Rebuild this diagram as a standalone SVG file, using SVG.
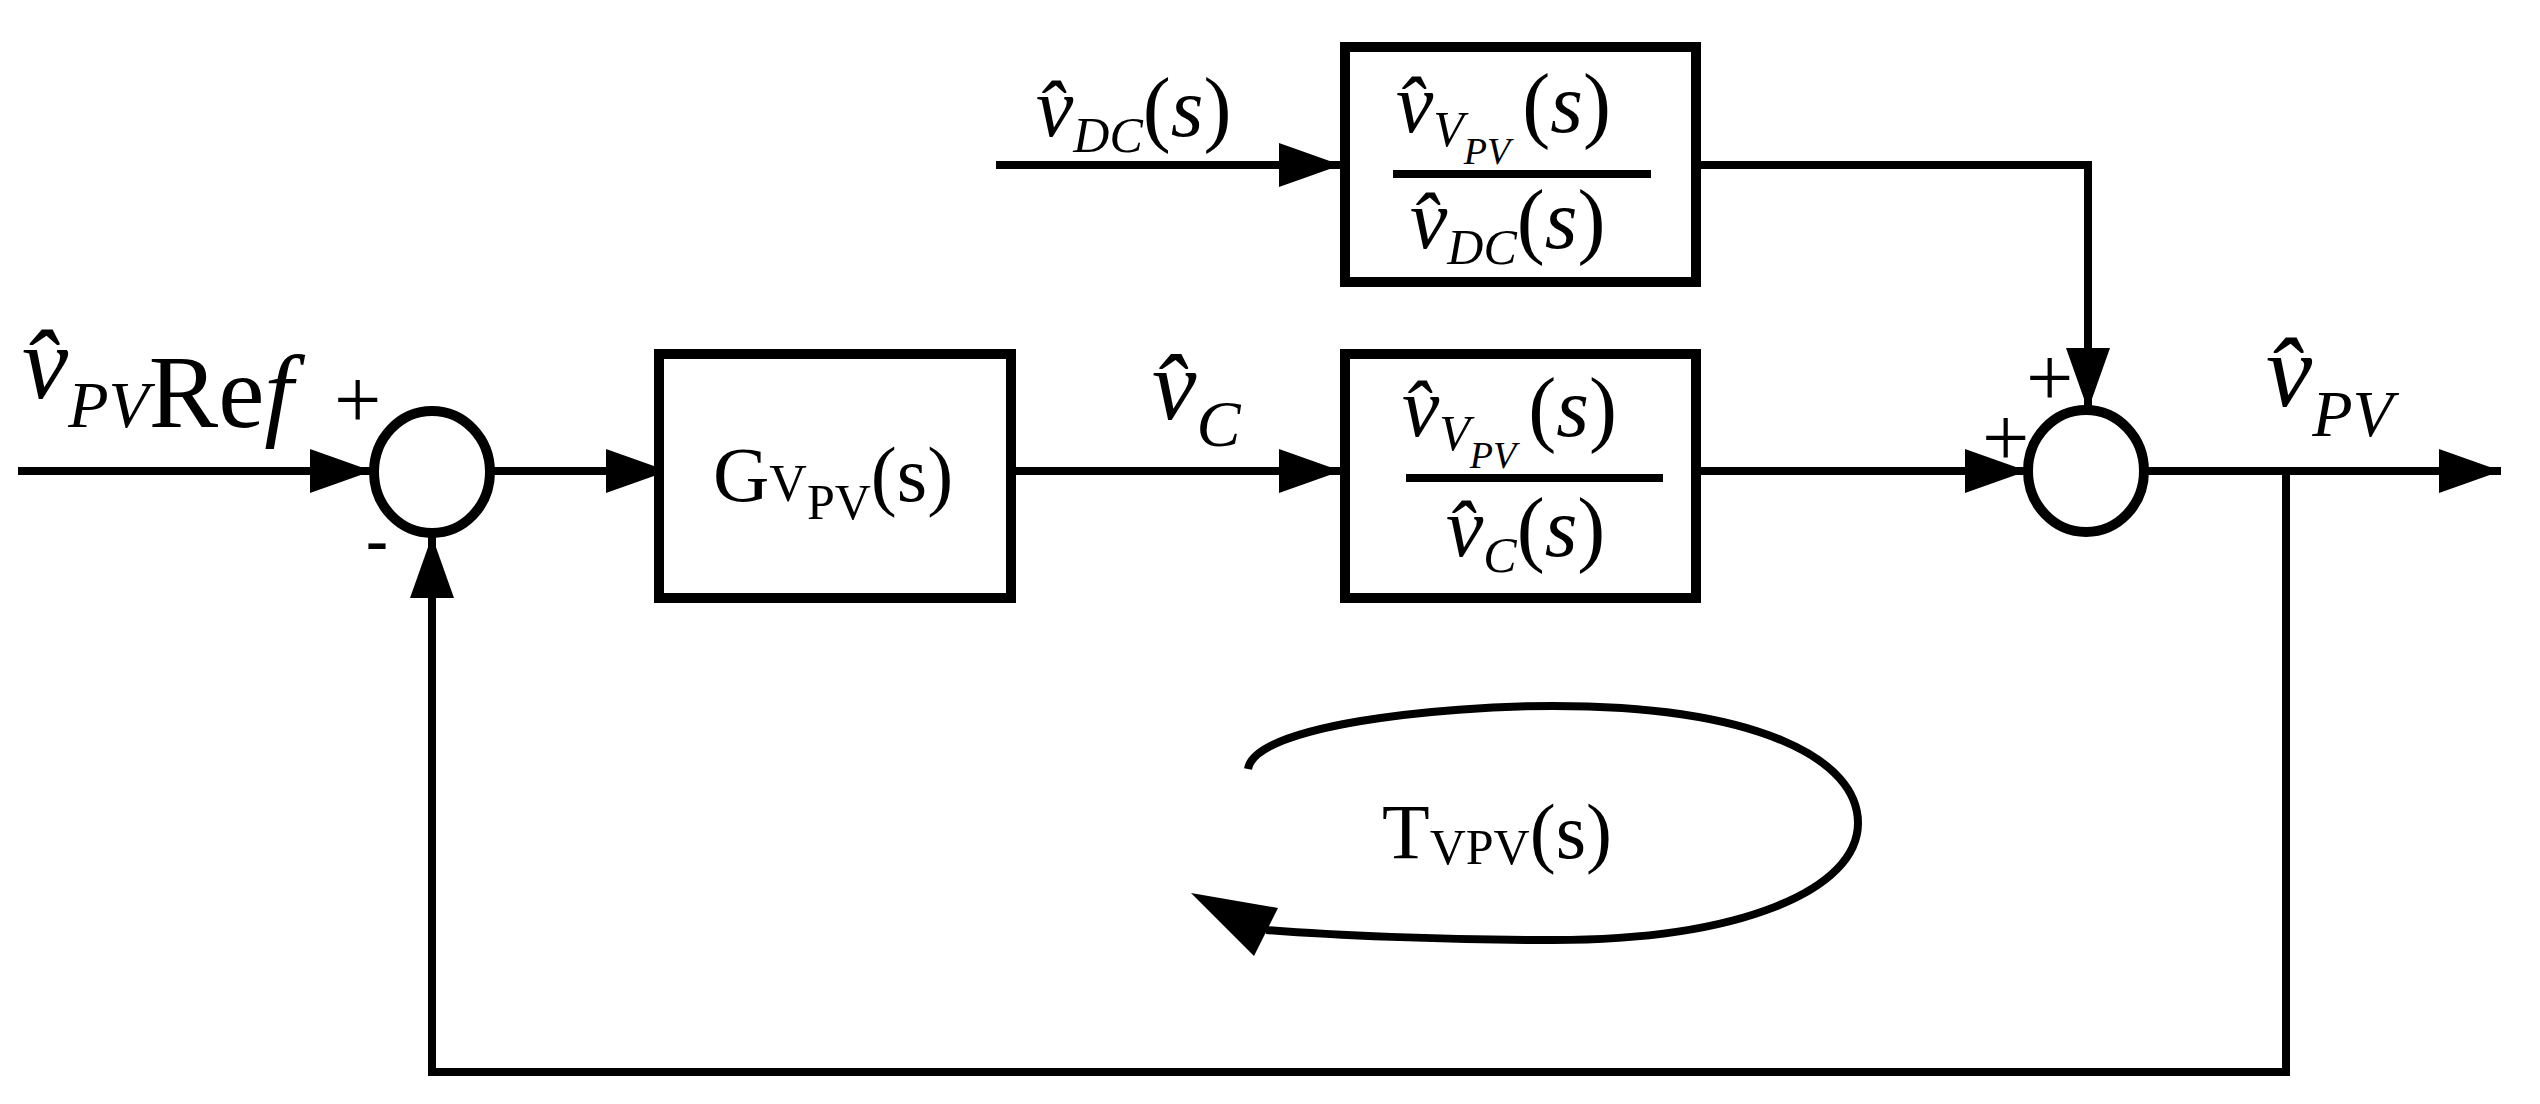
<svg xmlns="http://www.w3.org/2000/svg" width="2540" height="1104" viewBox="0 0 2540 1104">
<style>
.w{stroke:#000;stroke-width:8;fill:none}
.b{stroke:#000;stroke-width:10;fill:#fff}
.t{font-family:"Liberation Serif",serif;fill:#000}
.i{font-style:italic}
.p{font-size:84px}
</style>
<defs>
<marker id="ah" markerUnits="userSpaceOnUse" markerWidth="64" markerHeight="46" refX="62" refY="22" orient="auto"><path d="M0,0 L62,22 L0,44 z" fill="#000"/></marker>
</defs>
<rect width="2540" height="1104" fill="#fff"/>
<g id="connectors">
<path class="w" d="M18,471 H372" marker-end="url(#ah)"/>
<path class="w" d="M490,471 H668" marker-end="url(#ah)"/>
<path class="w" d="M1012,471 H1341" marker-end="url(#ah)"/>
<path class="w" d="M996,165 H1341" marker-end="url(#ah)"/>
<path class="w" d="M1697,165 H2088 V410" marker-end="url(#ah)"/>
<path class="w" d="M1697,471 H2027" marker-end="url(#ah)"/>
<path class="w" d="M2144,471 H2501" marker-end="url(#ah)"/>
<path class="w" d="M2286,471 V1072 H432 V536" marker-end="url(#ah)"/>
<path class="w" d="M1248,769 C1255,725 1440,706 1553,706 C1760,706 1858,760 1858,823 C1858,890 1740,940 1553,940 C1440,940 1330,935 1266,930"/>
<polygon points="1191,893 1278,908 1254,956" fill="#000"/>
</g>
<g id="sum1"><ellipse class="b" cx="432" cy="472" rx="58" ry="61"/>
<text class="t p" x="334" y="428">+</text>
<text class="t" x="366" y="562" font-size="66" font-weight="bold">-</text></g>
<g id="sum2"><ellipse class="b" cx="2086" cy="471" rx="58" ry="61"/>
<text class="t p" x="2026" y="406">+</text>
<text class="t p" x="1982" y="466">+</text></g>
<g id="G"><rect class="b" x="659" y="354" width="352" height="244"/>
<text class="t" x="713" y="501" font-size="78">G<tspan font-size="52">V</tspan><tspan font-size="50" dy="18">PV</tspan><tspan dy="-18">(s)</tspan></text></g>
<g id="Hc"><rect class="b" x="1345" y="354" width="351" height="244"/>
<text class="t i" x="1402" y="436" font-size="84">v̂<tspan font-size="50" dy="14">V</tspan><tspan font-size="38" dy="18">PV</tspan><tspan font-style="normal" dy="-32" dx="12">(</tspan>s<tspan font-style="normal">)</tspan></text>
<line class="w" x1="1406" y1="478" x2="1663" y2="478"/>
<text class="t i" x="1446" y="556" font-size="84">v̂<tspan font-size="50" dy="16">C</tspan><tspan font-style="normal" dy="-16">(</tspan>s<tspan font-style="normal">)</tspan></text></g>
<g id="Hdc"><rect class="b" x="1345" y="47" width="351" height="235"/>
<text class="t i" x="1396" y="132" font-size="84">v̂<tspan font-size="50" dy="14">V</tspan><tspan font-size="38" dy="18">PV</tspan><tspan font-style="normal" dy="-32" dx="12">(</tspan>s<tspan font-style="normal">)</tspan></text>
<line class="w" x1="1393" y1="174" x2="1651" y2="174"/>
<text class="t i" x="1410" y="248" font-size="84">v̂<tspan font-size="50" dy="16">DC</tspan><tspan font-style="normal" dy="-16">(</tspan>s<tspan font-style="normal">)</tspan></text></g>
<g id="labels">
<text class="t i" x="1036" y="136" font-size="84">v̂<tspan font-size="50" dy="16">DC</tspan><tspan font-style="normal" dy="-16">(</tspan>s<tspan font-style="normal">)</tspan></text>
<text class="t i" x="22" y="398" font-size="104">v̂<tspan font-size="66" dy="29">PV</tspan><tspan font-style="normal">Re</tspan>f</text>
<text class="t i" x="1152" y="419" font-size="100">v̂<tspan font-size="66" dy="27">C</tspan></text>
<text class="t i" x="2266" y="406" font-size="104">v̂<tspan font-size="66" dy="30">PV</tspan></text>
<text class="t" x="1382" y="858" font-size="78">T<tspan font-size="50" dy="6">VPV</tspan><tspan dy="-6">(s)</tspan></text>
</g>
</svg>
